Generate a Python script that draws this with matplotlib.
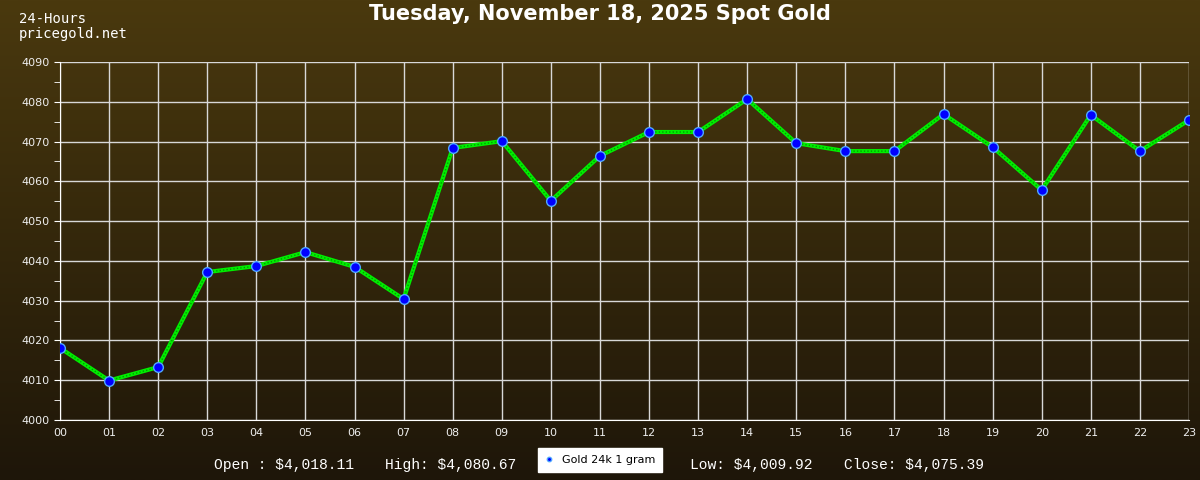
import matplotlib
matplotlib.use("Agg")
import matplotlib.pyplot as plt
import numpy as np

# hourly spot gold prices
hours = ["00", "01", "02", "03", "04", "05", "06", "07", "08", "09", "10", "11",
         "12", "13", "14", "15", "16", "17", "18", "19", "20", "21", "22", "23"]
prices = [4018.11, 4009.92, 4013.3, 4037.2, 4038.7, 4042.2, 4038.5, 4030.4,
          4068.4, 4070.1, 4055.1, 4066.4, 4072.4, 4072.4, 4080.67, 4069.6,
          4067.6, 4067.6, 4076.9, 4068.6, 4057.8, 4076.7, 4067.6, 4075.39]
y_ticks = [4000, 4010, 4020, 4030, 4040, 4050, 4060, 4070, 4080, 4090]
stats = [r"Open : \$4,018.11", r"High: \$4,080.67",
         r"Low: \$4,009.92", r"Close: \$4,075.39"]

fig = plt.figure(figsize=(12, 4.8), dpi=100)

# background gradient, gold-brown at top to almost black at bottom
bg = fig.add_axes([0, 0, 1, 1], zorder=-10)
top = np.array([74, 57, 14]) / 255.0
bot = np.array([30, 22, 9]) / 255.0
t = np.linspace(0, 1, 256)[:, None]
grad = top * (1 - t) + bot * t
bg.imshow(grad[:, None, :], aspect="auto", extent=[0, 1, 0, 1])
bg.axis("off")

ax = fig.add_axes([0.05, 0.125, 0.9408, 0.7458])
ax.patch.set_alpha(0)
x = np.arange(len(hours))
ax.plot(x, prices, color="#00ee00", lw=3.0, zorder=3)
ax.plot(x, prices, color="#009900", lw=1.0, ls=(0, (1, 1.5)), zorder=3)
ax.plot(x, prices, ls="none", marker="o", ms=7, mfc="#0000ff",
        mec="#4fa8ff", mew=1, zorder=4, label="Gold 24k 1 gram")

ax.set_xlim(0, 23)
ax.set_ylim(4000, 4090)
ax.set_xticks(x)
ax.set_xticklabels(hours)
ax.set_yticks(y_ticks)
ax.set_yticks(np.arange(4005, 4090, 10), minor=True)
ax.grid(True, color="#d8d8d8", lw=1.0)
ax.set_axisbelow(True)
for s in ax.spines.values():
    s.set_visible(False)
ax.spines["left"].set_visible(True)
ax.spines["bottom"].set_visible(True)
ax.spines["left"].set_color("white")
ax.spines["bottom"].set_color("white")
ax.tick_params(colors="white", labelsize=8, length=4)
ax.tick_params(axis="x", length=0, pad=6)
ax.tick_params(axis="y", which="minor", colors="white", length=4)
for lab in ax.get_xticklabels() + ax.get_yticklabels():
    lab.set_color("#eeeeee")

fig.text(0.5, 0.97, "Tuesday, November 18, 2025 Spot Gold", ha="center",
         va="center", color="white", fontsize=15, fontweight="bold",
         family="DejaVu Sans")
fig.text(0.016, 0.96, "24-Hours", color="white", fontsize=10,
         family="DejaVu Sans Mono", va="center")
fig.text(0.016, 0.929, "pricegold.net", color="white", fontsize=10,
         family="DejaVu Sans Mono", va="center")

# open/high/low/close line at the bottom
for s, xp in zip(stats, [0.178, 0.321, 0.575, 0.703]):
    fig.text(xp, 0.032, s, color="white", fontsize=10.5,
             family="Liberation Mono", va="center")

leg = fig.legend(handles=[ax.lines[2]], loc="center", bbox_to_anchor=(0.5, 0.042),
                 frameon=True, fontsize=8, fancybox=False, markerscale=0.45,
                 handlelength=0.8, borderpad=0.6, framealpha=1)
leg.get_frame().set_facecolor("white")
leg.get_frame().set_edgecolor("white")

fig.savefig("out.png", dpi=100)
